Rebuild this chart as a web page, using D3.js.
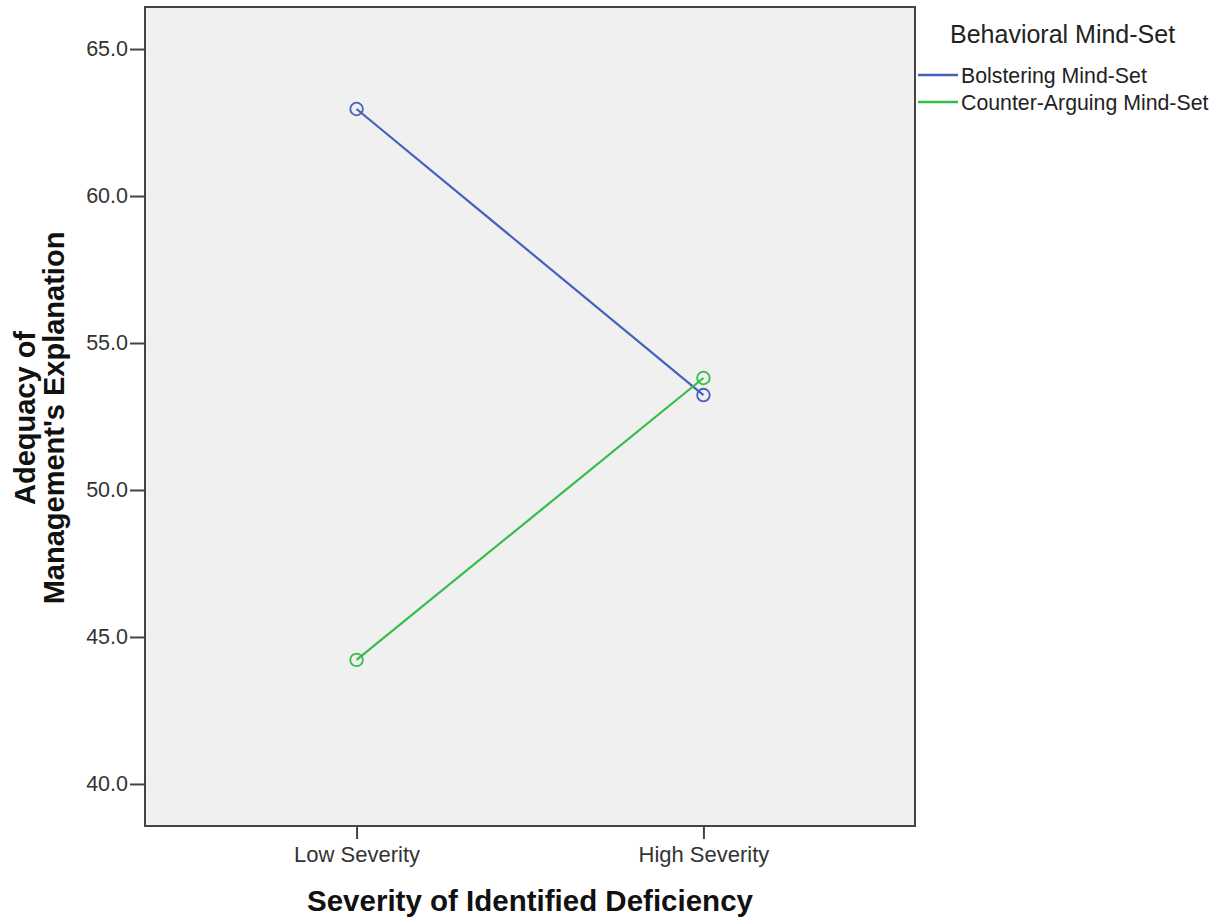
<!DOCTYPE html>
<html><head><meta charset="utf-8">
<script src="https://cdn.jsdelivr.net/npm/d3@7"></script>
<style>body{margin:0;background:#fff}svg{display:block}text{font-family:"Liberation Sans",Arial,sans-serif}</style>
</head><body>
<script>
const categories = ["Low Severity", "High Severity"];
const seriesNames = ["Bolstering Mind-Set", "Counter-Arguing Mind-Set"];
const bolstering = [62.96, 53.23];
const counterArguing = [44.22, 53.81];
const yTicks = [40, 45, 50, 55, 60, 65];
const colors = ["#4660bb", "#34bd48"];
const series = [bolstering, counterArguing];

const W = 1223, H = 921;
const pL = 145, pR = 915, pT = 7, pB = 826;
const svg = d3.select("body").append("svg").attr("width", W).attr("height", H);

const x = d3.scalePoint().domain(categories).range([pL, pR]).padding(0.61);
const y = d3.scaleLinear().domain([38.57, 66.43]).range([pB, pT]);

svg.append("rect").attr("x", pL).attr("y", pT).attr("width", pR-pL).attr("height", pB-pT)
  .attr("fill", "#f0f0f0").attr("stroke", "#444").attr("stroke-width", 2);

const ya = svg.append("g").attr("transform", `translate(${pL},0)`)
  .call(d3.axisLeft(y).tickValues(yTicks).tickFormat(d3.format(".1f")).tickSize(15).tickPadding(2).tickSizeOuter(0));
ya.select(".domain").remove();
ya.selectAll("line").attr("stroke", "#444").attr("stroke-width", 2);
ya.selectAll("text").attr("font-size", 21.5).attr("fill", "#333").attr("font-family", "Liberation Sans, Arial, sans-serif");

const xa = svg.append("g").attr("transform", `translate(0,${pB})`)
  .call(d3.axisBottom(x).tickSize(13).tickSizeOuter(0));
xa.select(".domain").remove();
xa.selectAll("line").attr("stroke", "#444").attr("stroke-width", 2);
xa.selectAll("text").attr("font-size", 22).attr("fill", "#333").attr("y", 36).attr("dy", 0).attr("font-family", "Liberation Sans, Arial, sans-serif");

const line = d3.line().x((d,i)=>x(categories[i])).y(d=>y(d));
series.forEach((s, k) => {
  svg.append("path").datum(s).attr("d", line).attr("fill", "none").attr("stroke", colors[k]).attr("stroke-width", 2.2);
  svg.selectAll(null).data(s).enter().append("circle")
    .attr("cx", (d,i)=>x(categories[i])).attr("cy", d=>y(d)).attr("r", 6.3)
    .attr("fill", "none").attr("stroke", colors[k]).attr("stroke-width", 1.8);
});

svg.append("text").attr("x", 530).attr("y", 911).attr("text-anchor", "middle")
  .attr("font-size", 29.5).attr("font-weight", "bold").attr("fill", "#111").text("Severity of Identified Deficiency");

const yt = svg.append("text").attr("transform", `translate(0,418) rotate(-90)`)
  .attr("text-anchor", "middle").attr("font-size", 29).attr("font-weight", "bold").attr("fill", "#111");
yt.append("tspan").attr("x", 0).attr("y", 35).text("Adequacy of");
yt.append("tspan").attr("x", 0).attr("y", 64).text("Management's Explanation");

svg.append("text").attr("x", 950).attr("y", 43).attr("font-size", 25).attr("fill", "#222").text("Behavioral Mind-Set");
seriesNames.forEach((n, k) => {
  const yy = 75 + k*27;
  svg.append("line").attr("x1", 918).attr("x2", 958).attr("y1", yy).attr("y2", yy).attr("stroke", colors[k]).attr("stroke-width", 2.5);
  svg.append("text").attr("x", 961).attr("y", yy + 7.5).attr("font-size", 21.3).attr("fill", "#222").text(n);
});
</script>
</body></html>
